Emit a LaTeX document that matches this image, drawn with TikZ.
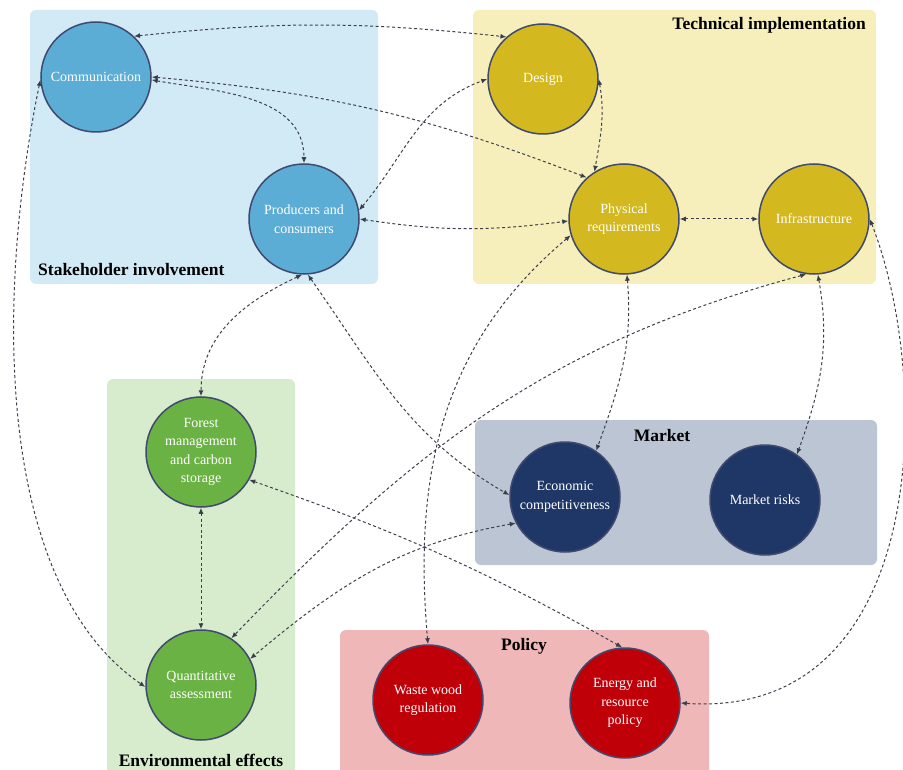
\documentclass[tikz,border=0pt]{standalone}
\usepackage{fontspec}
\setmainfont{Liberation Serif}
\usepackage{xcolor}
\usetikzlibrary{arrows.meta}
\definecolor{stake-bg}{HTML}{D1EAF5}
\definecolor{tech-bg}{HTML}{F7EFBB}
\definecolor{env-bg}{HTML}{D6ECCC}
\definecolor{market-bg}{HTML}{BCC5D4}
\definecolor{policy-bg}{HTML}{F0B7B9}
\definecolor{stake-fill}{HTML}{5BADD5}
\definecolor{tech-fill}{HTML}{D4B820}
\definecolor{env-fill}{HTML}{6BB244}
\definecolor{market-fill}{HTML}{1F3767}
\definecolor{policy-fill}{HTML}{C00008}
\definecolor{topic-border}{HTML}{3F4A6E}
\definecolor{link-gray}{HTML}{3C404C}
\definecolor{tip-navy}{HTML}{2C3652}
\tikzset{
    group-box/.style = {rounded corners=6pt},
    group-title/.style = {font=\fontsize{17.5}{20}\selectfont\bfseries, text=black, inner sep=0pt},
    topic/.style = {circle, draw=topic-border, line width=1.5pt, minimum size=110pt, inner sep=0pt, text=white, align=center, font=\fontsize{14}{18.5}\selectfont},
    link/.style = {<->, >={Latex[length=6pt,width=5pt,fill=tip-navy]}, draw=link-gray, line width=1pt, dash pattern=on 3pt off 2.5pt},
}

\begin{document}
\begin{tikzpicture}[x=1pt,y=-1pt]
\useasboundingbox (0,0) rectangle (903,770);
\fill [group-box, stake-bg] (30,10) rectangle (378,284);
\fill [group-box, tech-bg] (473,10) rectangle (876,284);
\fill [group-box, env-bg] (107,379) rectangle (295,790);
\fill [group-box, market-bg] (475,420) rectangle (877,565);
\fill [group-box, policy-bg] (340,630) rectangle (709,790);

\node [group-title, anchor=west] (stake-title) at (38,270) {Stakeholder involvement};
\node [group-title, anchor=east] (tech-title) at (866,25) {Technical implementation};
\node [group-title] (env-title) at (201,760) {Environmental effects};
\node [group-title] (market-title) at (662,436) {Market};
\node [group-title] (policy-title) at (524,646) {Policy};

\node [topic, fill=stake-fill] (comm) at (96,77) {Communication};
\node [topic, fill=stake-fill] (prod) at (304,219) {Producers and\\consumers};
\node [topic, fill=tech-fill] (design) at (543,79) {Design};
\node [topic, fill=tech-fill] (phys) at (624,219) {Physical\\requirements};
\node [topic, fill=tech-fill] (infra) at (814,219) {Infrastructure};
\node [topic, fill=env-fill] (forest) at (201,452) {Forest\\management\\and carbon\\storage};
\node [topic, fill=env-fill] (quant) at (201,685) {Quantitative\\assessment};
\node [topic, fill=market-fill] (econ) at (565,497) {Economic\\competitiveness};
\node [topic, fill=market-fill] (risks) at (765,500) {Market risks};
\node [topic, fill=policy-fill] (waste) at (428,700) {Waste wood\\regulation};
\node [topic, fill=policy-fill] (energy) at (625,703) {Energy and\\resource\\policy};

\draw [link] (comm.47) to[bend left=6] (design.131);
\draw [link] (comm.0) to[bend left=8] (phys.132);
\draw [link] (comm.-3) to[out=-10,in=90] (prod.north);
\draw [link] (comm.183) .. controls +(-45,220) and +(-150,-103) .. (quant.182);
\draw [link] (prod.9) to[out=50,in=200] (design.180);
\draw [link] (prod.0) to[bend right=8] (phys.182);
\draw [link] (prod.-92) to[out=205,in=90] (forest.north);
\draw [link] (prod.-86) to[out=-55,in=150] (econ.178);
\draw [link] (design.0) to[out=-80,in=80] (phys.122);
\draw [link] (phys.197) to[out=220,in=95] (waste.north);
\draw [link] (phys.-87) to[out=-85,in=70] (econ.56);
\draw [link] (phys.east) -- (infra.west);
\draw [link] (infra.-98) to[out=195,in=46] (quant.57);
\draw [link] (infra.-86) to[out=-80,in=70] (risks.55);
\draw [link] (infra.0) .. controls +(63,160) and +(250,17) .. (energy.0);
\draw [link] (econ.208) to[out=190,in=40] (quant.28);
\draw [link] (forest.south) -- (quant.north);
\draw [link] (forest.-30) to[bend left=5] (energy.93);
\end{tikzpicture}
\end{document}
